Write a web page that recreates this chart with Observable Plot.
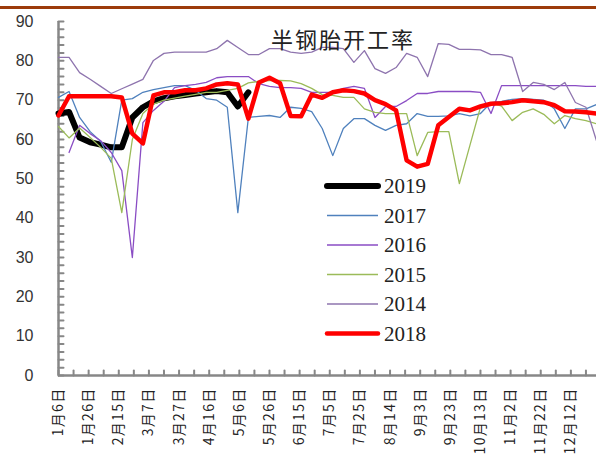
<!DOCTYPE html>
<html><head><meta charset="utf-8">
<script src="https://cdn.jsdelivr.net/npm/d3@7"></script>
<script src="https://cdn.jsdelivr.net/npm/@observablehq/plot@0.6"></script>
<style>
html,body{margin:0;padding:0;background:#fff;}
#wrap{position:relative;width:596px;height:461px;overflow:hidden;background:#fff;}
#topbar{position:absolute;left:0;top:6px;width:596px;height:3px;background:#9C3B0A;}
#title{position:absolute;left:271px;top:25px;font-family:"Noto Sans CJK SC";font-size:22px;line-height:26px;letter-spacing:2px;color:#222;white-space:nowrap;}
#legend{position:absolute;left:0;top:0;}
#chart{position:absolute;left:0;top:0;}
</style>
</head><body>
<div id="wrap"><div id="chart"></div><div id="topbar"></div><div id="title">半钢胎开工率</div><svg id="legend" width="596" height="461"></svg></div>
<script>
const weekDates = ["2019-01-06","2019-01-13","2019-01-20","2019-01-27","2019-02-03","2019-02-10","2019-02-17","2019-02-24","2019-03-03","2019-03-10","2019-03-17","2019-03-24","2019-03-31","2019-04-07","2019-04-14","2019-04-21","2019-04-28","2019-05-05","2019-05-12","2019-05-19","2019-05-26","2019-06-02","2019-06-09","2019-06-16","2019-06-23","2019-06-30","2019-07-07","2019-07-14","2019-07-21","2019-07-28","2019-08-04","2019-08-11","2019-08-18","2019-08-25","2019-09-01","2019-09-08","2019-09-15","2019-09-22","2019-09-29","2019-10-06","2019-10-13","2019-10-20","2019-10-27","2019-11-03","2019-11-10","2019-11-17","2019-11-24","2019-12-01","2019-12-08","2019-12-15","2019-12-22","2019-12-29"];

const xTickLabels = ["1月6日","1月26日","2月15日","3月7日","3月27日","4月16日","5月6日","5月26日","6月15日","7月5日","7月25日","8月14日","9月3日","9月23日","10月13日","11月2日","11月22日","12月12日"];
const yTicks = [0,10,20,30,40,50,60,70,80,90];

const s2019 = [66.6,67,60.5,59.3,58.7,58,58,65.6,68.2,69.7,70.5,71,71.3,71.7,72,72.3,72,68.4,72];
const s2017 = [70.7,72.2,65.6,62,59.5,54.2,70,70.4,72,72.7,73.2,73.7,73.7,72.5,70.4,70,68.2,41.4,65.6,65.9,66.1,65.6,68.2,67.9,67.1,62.8,55.9,62.8,65.3,65.3,63.6,62.3,63.6,64,66.6,65.9,65.9,66,66.6,66,66.6,69.4,69.7,70.2,70.4,70.2,70,67.8,62.8,67.8,67.8,68.9];
const s2016 = [null,56.7,63.6,61.5,59.7,56.7,52.1,30,64.3,67.4,69.7,73.2,73.7,74,74.5,75.7,76,76,76,74.2,73.5,73.2,73.2,73,72,72,72,73,73.5,73,65.6,68.4,68.4,69.9,71.7,71.7,72.2,72.2,72.2,72.2,72,66.6,73.7,73.7,73.7,73.7,73.7,73.7,73.7,73.7,73.5,73.5];
const s2015 = [63.3,60.4,62.9,60.5,58,55.2,41.4,60,66.6,69,70,70.5,71,71.5,72,72,72.5,73,74.4,74.8,75,75,74.9,74.2,73,71.4,71.2,70.7,70.7,67.8,66.9,66.6,66.6,66.6,55.9,61.8,62,62,48.8,58.5,68.2,69.4,68.5,64.8,66.9,67.8,66.4,64,66.1,65.3,64.8,64];
const s2014 = [80.9,80.9,77,75.3,73.5,71.7,72.9,74.1,75.3,80.1,81.9,82.2,82.2,82.2,82.2,83.1,85.2,83.4,81.6,81.6,83.1,83.1,82.2,81.9,82.2,83.4,83.4,83.1,79.6,82.6,78,76.8,78.3,81.9,80.9,76,84.4,84.2,82.9,82.9,82.8,81.6,81.6,80.9,72.2,74.5,74,72.7,74.5,69.4,68.2,59.7];
const s2018 = [66.1,71,71,71,71,71,70.7,61.5,59,71.2,72,72,72.5,72.5,73,74,74.3,74,65.3,74.5,75.7,74.3,66,65.9,71.4,70.6,72,72.5,72.3,71.7,70,69,67.4,54.7,53.1,53.8,63.6,65.7,67.8,67.4,68.4,69.1,69.2,69.5,70,69.7,69.5,68.7,67.2,67.1,66.9,66.6];

const seriesNames = ["2019","2017","2016","2015","2014","2018"];
const seriesValues = [s2019,s2017,s2016,s2015,s2014,s2018];
const seriesColors = ["#000000","#4F81BD","#8A4DC4","#9BBB59","#8E74AE","#FF0000"];
const seriesWidths = [6,1.3,1.3,1.3,1.3,4.5];

const dates = weekDates.map(s => new Date(s + "T00:00:00Z"));
const start = dates[0], end = dates[dates.length - 1];
const labelDates = xTickLabels.map((_, i) => d3.utcDay.offset(start, i * 20));
const labelMap = new Map(labelDates.map((d, i) => [+d, xTickLabels[i]]));
const tenDayTicks = d3.range(0, 358, 10).map(k => d3.utcDay.offset(start, k));
const yMinor = d3.range(0, 91, 2);

const tickShape = {draw(ctx, l) { ctx.moveTo(0, 0); ctx.lineTo(0, -l); }};
const axisGray = "#878787";

const lineMarks = seriesNames.map((name, j) => {
  const rows = dates.map((d, i) => ({date: d, value: seriesValues[j][i] == null ? NaN : seriesValues[j][i]}));
  return Plot.line(rows, {x: "date", y: "value", stroke: seriesColors[j], strokeWidth: seriesWidths[j],
    strokeLinejoin: "round", strokeLinecap: "round"});
});

const plot = Plot.plot({
  width: 596, height: 461,
  marginLeft: 58, marginRight: 0, marginTop: 21, marginBottom: 86,
  x: {type: "utc", domain: [start, end], label: null},
  y: {domain: [0, 90], label: null},
  style: {background: "transparent", overflow: "visible"},
  marks: [
    Plot.axisY({ticks: yTicks, tickSize: 0, tickPadding: 25, fontSize: 16, fill: "#333", fontFamily: "Liberation Sans", tickFormat: d => String(d), label: null}),
    Plot.axisX({ticks: labelDates, tickSize: 0, tickPadding: 12, tickRotate: -90, fontSize: 14, fill: "#222",
      fontFamily: "Noto Sans CJK SC", tickFormat: d => labelMap.get(+d), label: null}),
    Plot.vector(yMinor, {x: () => start, y: d => d, length: 5, rotate: 90, anchor: "start", shape: tickShape, stroke: axisGray, strokeWidth: 2}),
    Plot.vector(tenDayTicks, {x: d => d, y: () => 0, length: 5, rotate: 0, anchor: "start", shape: tickShape, stroke: axisGray, strokeWidth: 2}),
    Plot.ruleX([start], {y1: 0, y2: 90, stroke: axisGray, strokeWidth: 2.5}),
    Plot.ruleY([0], {stroke: axisGray, strokeWidth: 2.5}),
    ...lineMarks
  ]
});
plot.querySelectorAll('g[aria-label="x-axis tick label"] text').forEach(t => t.style.letterSpacing = "1.3px");
document.getElementById("chart").appendChild(plot);

// legend
const leg = d3.select("#legend");
seriesNames.forEach((name, j) => {
  const cy = 186 + j * 29.5;
  leg.append("line").attr("x1", 327).attr("x2", 378).attr("y1", cy).attr("y2", cy)
    .attr("stroke", seriesColors[j]).attr("stroke-width", seriesWidths[j] === 1.3 ? 1.5 : seriesWidths[j])
    .attr("stroke-linecap", seriesWidths[j] === 1.3 ? "butt" : "round");
  leg.append("text").attr("x", 384).attr("y", cy + 7).text(name)
    .attr("font-family", "Liberation Serif").attr("font-size", 21).attr("fill", "#222");
});
</script>
</body></html>
